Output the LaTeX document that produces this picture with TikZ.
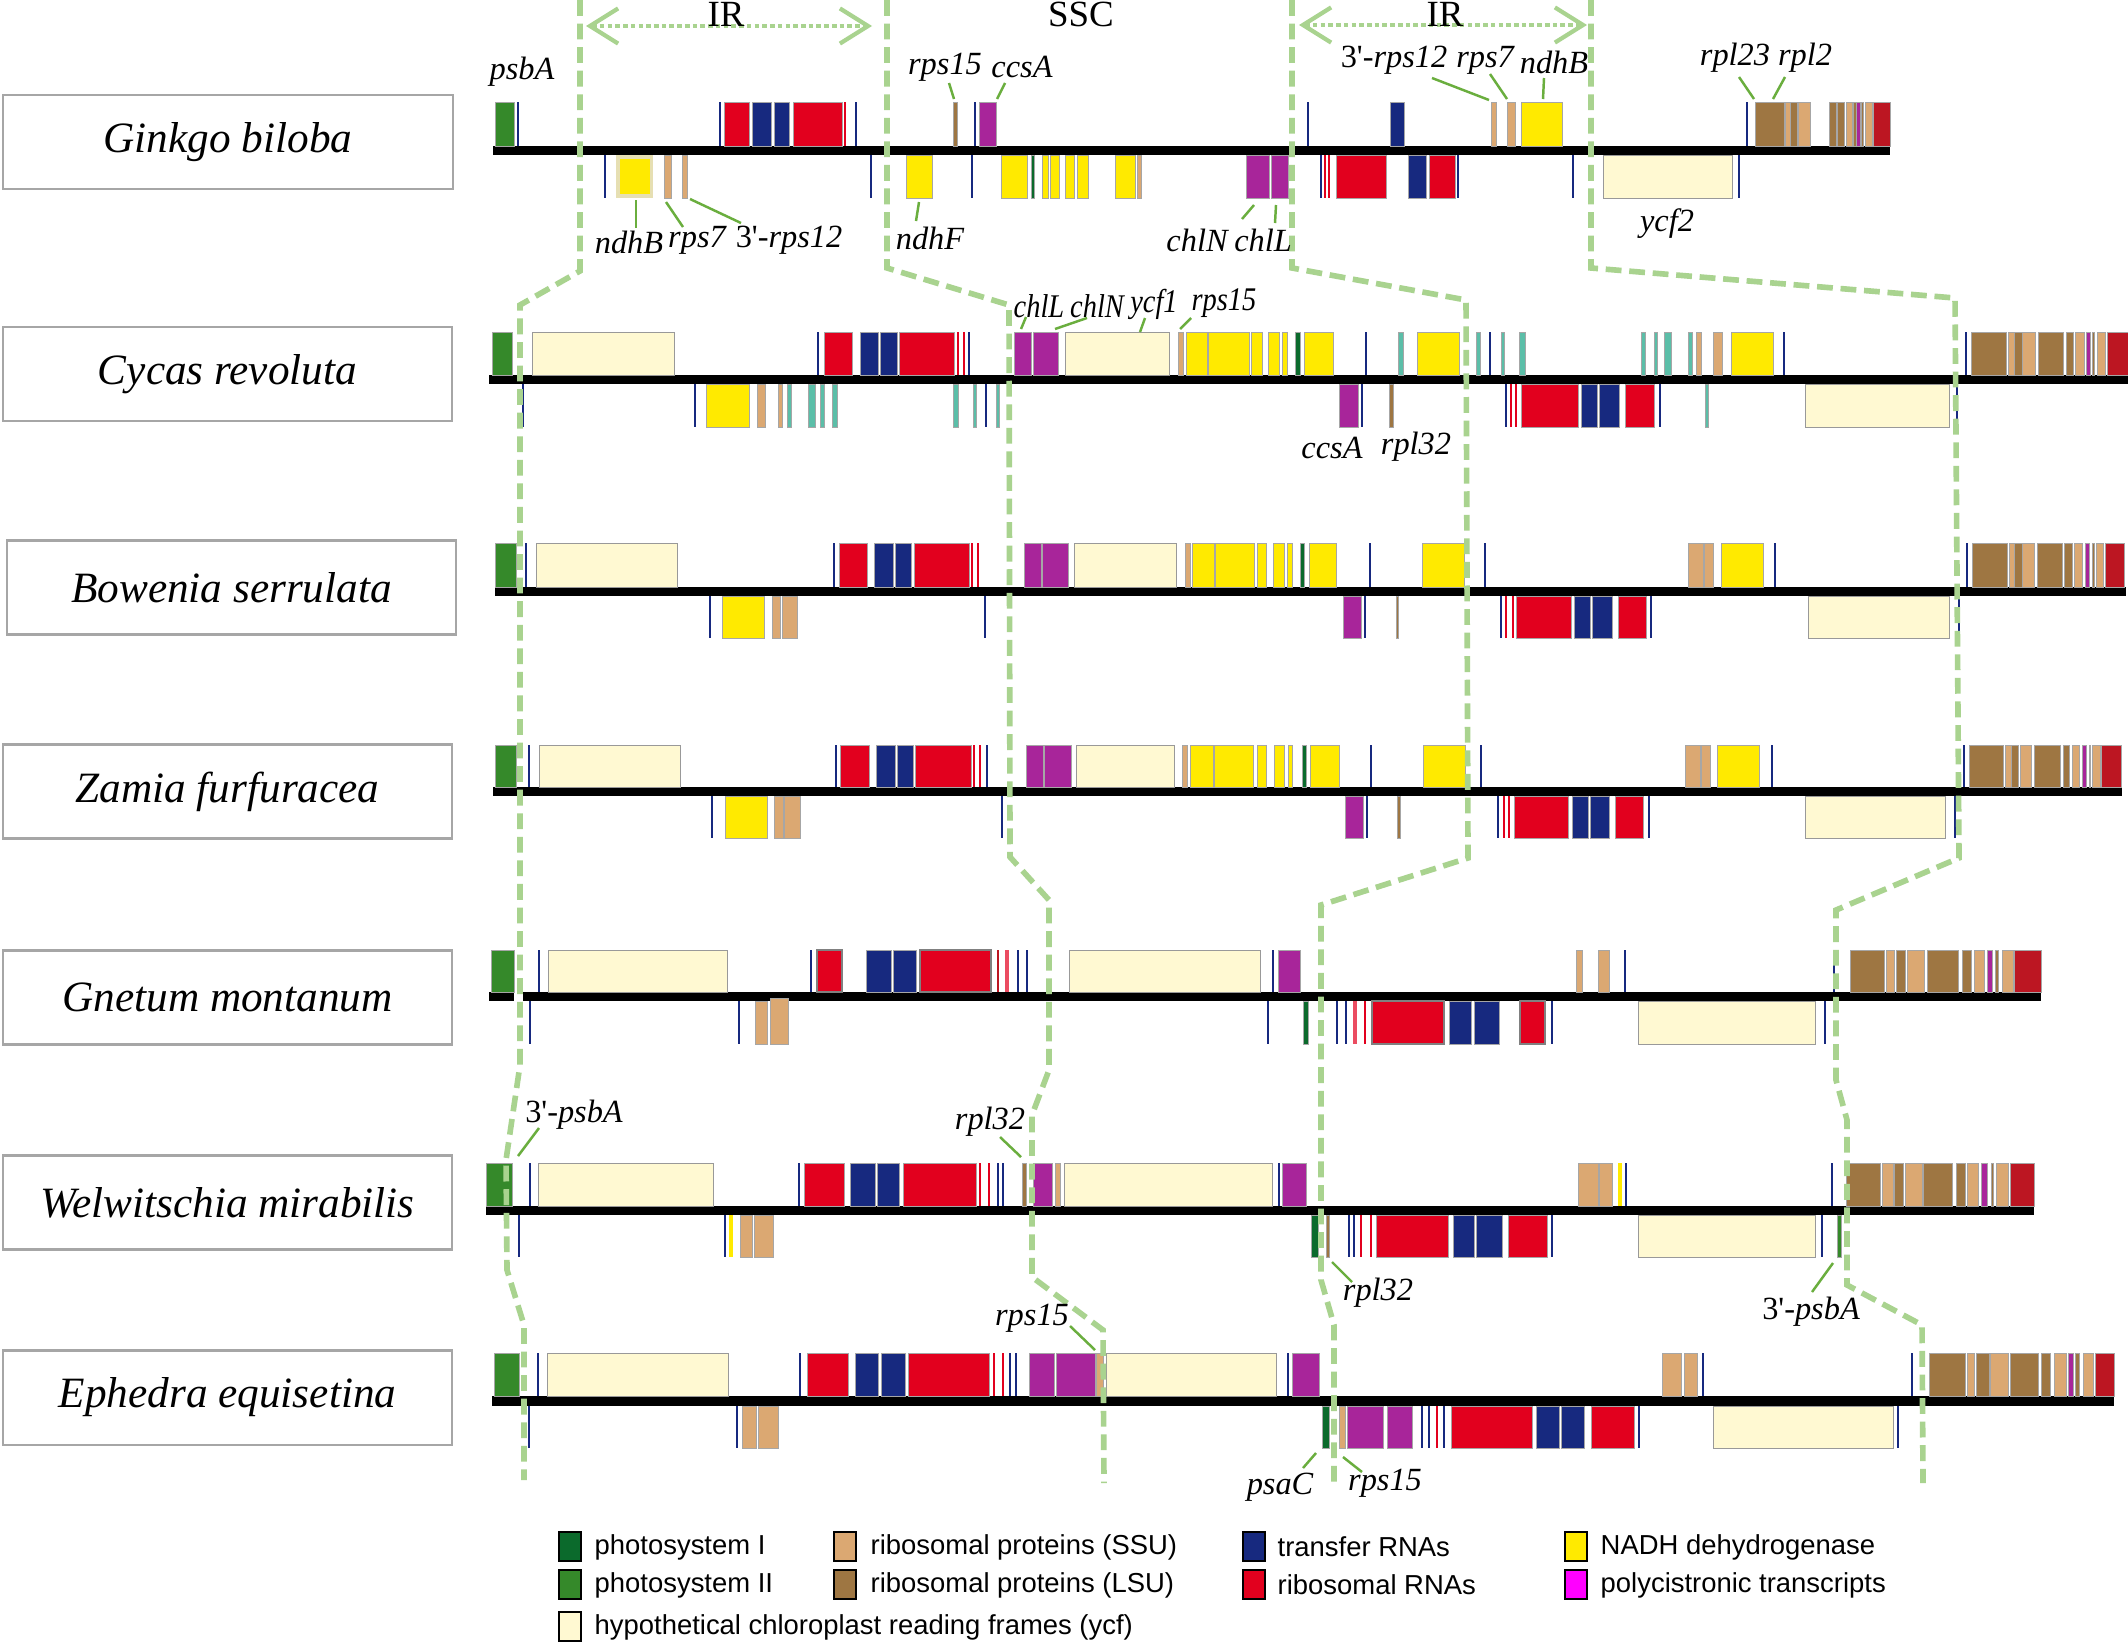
\documentclass[tikz,border=0pt]{standalone}
\usepackage{fontspec}
\setmainfont{Liberation Serif}
\setsansfont{Liberation Sans}
\newfontfamily\condserif[FakeStretch=0.86]{Liberation Serif}
\usetikzlibrary{arrows.meta}
\definecolor{cPSI}{HTML}{0B6A2C}
\definecolor{cPSII}{HTML}{35892A}
\definecolor{cSSU}{HTML}{DBA872}
\definecolor{cLSU}{HTML}{9E7642}
\definecolor{cTRNA}{HTML}{17297F}
\definecolor{cRRNA}{HTML}{E2001E}
\definecolor{cNDH}{HTML}{FFEA00}
\definecolor{cPOLY}{HTML}{A8259A}
\definecolor{cMAG}{HTML}{FF00FF}
\definecolor{cYCF}{HTML}{FFF9D2}
\definecolor{cDRED}{HTML}{BC1622}
\definecolor{cTEAL}{HTML}{5BBEA8}
\definecolor{cDASH}{HTML}{A9D38F}
\definecolor{cLEAD}{HTML}{6AAE3E}
\definecolor{cBOX}{HTML}{A6A6A6}
\definecolor{cKHAKI}{HTML}{E6DFB3}
\newcommand\gbx[3]{\path[#3] (#1,\yt) rectangle (#2,\yb);}
\newcommand\gln[2]{\draw[#2] (#1,\yt) -- (#1,\yb);}
\newcommand\tp{{\upshape 3\textquotesingle-}}
\begin{document}
\begin{tikzpicture}[x=0.01cm,y=-0.01cm,
  gene/.style={draw=black!35, line width=0.25pt},
  psI/.style={gene, fill=cPSI}, psII/.style={gene, fill=cPSII},
  ssu/.style={gene, fill=cSSU}, lsu/.style={gene, fill=cLSU},
  trna/.style={gene, fill=cTRNA}, rrna/.style={gene, fill=cRRNA},
  rrnag/.style={fill=cRRNA, draw=black!50, line width=0.8pt},
  ndh/.style={gene, fill=cNDH}, poly/.style={gene, fill=cPOLY},
  ycf/.style={gene, fill=cYCF, draw=black!40}, dred/.style={gene, fill=cDRED},
  teal/.style={gene, fill=cTEAL},
  nl/.style={draw=cTRNA, line width=0.4pt}, rl/.style={draw=cRRNA, line width=0.6pt},
  gbar/.style={fill=black},
  gdash/.style={draw=cDASH, line width=1.6pt, dash pattern=on 4.5pt off 2.2pt},
  lead/.style={draw=cLEAD, line width=0.7pt},
  glab/.style={font=\fontsize{9.2}{10}\selectfont\itshape, inner sep=0pt},
  clab/.style={font=\condserif\fontsize{9.4}{10}\selectfont\itshape, inner sep=0pt},
  rlab/.style={font=\fontsize{10.5}{11}\selectfont, inner sep=0pt},
  spbox/.style={draw=cBOX, line width=0.6pt, minimum width=4.49cm, minimum height=0.94cm,
    font=\fontsize{12.3}{13}\selectfont\itshape},
  irarrow/.style={draw=cDASH, line width=1.1pt, dash pattern=on 1.3pt off 0.9pt,
    {Straight Barb[length=8pt,width=10pt,line width=1.2pt]}-{Straight Barb[length=8pt,width=10pt,line width=1.2pt]}},
  lsw/.style={draw=black, line width=0.8pt},
  ltx/.style={anchor=west, inner sep=0pt, font=\sffamily\fontsize{7.8}{8}\selectfont}
]
\useasboundingbox (0,0) rectangle (2128,1651);
\fill[white] (0,0) rectangle (2128,1651);

% species boxes
\node[spbox] (sp1) at (228,142) {Ginkgo biloba};
\node[spbox] (sp2) at (227.5,374) {Cycas revoluta};
\node[spbox] (sp3) at (231.5,587.5) {Bowenia serrulata};
\node[spbox] (sp4) at (227.5,791.5) {Zamia furfuracea};
\node[spbox] (sp5) at (227.5,997.5) {Gnetum montanum};
\node[spbox] (sp6) at (227.5,1202.5) {Welwitschia mirabilis};
\node[spbox] (sp7) at (227.5,1397.5) {Ephedra equisetina};

% ===== Ginkgo =====
\fill[gbar] (493,146) rectangle (1890,155);
\def\yt{102}\def\yb{146}
\gbx{495}{514}{psII}\gln{518}{nl}\gln{720}{nl}
\gbx{724}{749}{rrna}\gbx{752}{771}{trna}\gbx{774}{789}{trna}\gbx{793}{842}{rrna}
\gln{845}{rl}\gln{856}{nl}\gbx{953}{957}{lsu}\gln{975}{nl}\gbx{979}{996}{poly}
\gln{1308}{nl}\gbx{1390}{1404}{trna}\gbx{1491}{1496}{ssu}\gbx{1507}{1515}{ssu}\gbx{1521}{1562}{ndh}
\gln{1747}{nl}\gbx{1755}{1784}{lsu}\gbx{1785}{1790}{ssu}\gbx{1790}{1797}{lsu}\gbx{1798}{1810}{ssu}
\gbx{1829}{1836}{lsu}\gbx{1837}{1844}{lsu}\gbx{1846}{1852}{ssu}\gbx{1853}{1856}{lsu}
\gbx{1856}{1860}{poly}\gbx{1861}{1863}{lsu}\gbx{1865}{1872}{ssu}\gbx{1873}{1890}{dred}
\def\yt{155}\def\yb{198}
\gln{605}{nl}
\path[fill=cKHAKI] (616,155) rectangle (653,198);
\path[fill=cNDH] (620,159) rectangle (650,194);
\gbx{664}{671}{ssu}\gbx{682}{687}{ssu}\gln{871}{nl}\gbx{906}{932}{ndh}\gln{972}{nl}
\gbx{1001}{1027}{ndh}\gbx{1031}{1034}{psI}\gbx{1042}{1048}{ndh}\gbx{1050}{1059}{ndh}
\gbx{1065}{1074}{ndh}\gbx{1077}{1088}{ndh}\gbx{1115}{1135}{ndh}\gbx{1137}{1141}{ssu}
\gbx{1246}{1269}{poly}\gbx{1271}{1288}{poly}\gln{1321}{nl}\gln{1325}{rl}\gln{1329}{rl}
\gbx{1336}{1386}{rrna}\gbx{1408}{1426}{trna}\gbx{1429}{1455}{rrna}\gln{1458}{nl}
\gln{1573}{nl}\gbx{1603}{1732}{ycf}\gln{1739}{nl}

% ===== Cycas =====
\fill[gbar] (489,375) rectangle (2128,384);
\def\yt{332}\def\yb{375}
\gbx{492}{512}{psII}\gbx{532}{674}{ycf}\gln{818}{nl}\gbx{824}{852}{rrna}\gbx{860}{878}{trna}
\gbx{880}{897}{trna}\gbx{899}{954}{rrna}\gln{958}{rl}\gln{964}{rl}\gln{969}{nl}
\gbx{1014}{1031}{poly}\gbx{1033}{1058}{poly}\gbx{1065}{1169}{ycf}\gbx{1178}{1183}{ssu}
\gbx{1186}{1207}{ndh}\gbx{1208}{1249}{ndh}\gbx{1251}{1262}{ndh}\gbx{1268}{1279}{ndh}
\gbx{1282}{1287}{ndh}\gbx{1295}{1300}{psI}\gbx{1304}{1333}{ndh}\gln{1366}{nl}
\gbx{1398}{1403}{teal}\gbx{1417}{1459}{ndh}\gbx{1476}{1480}{teal}\gln{1490}{nl}
\gbx{1501}{1504}{teal}\gbx{1519}{1525}{teal}\gbx{1641}{1645}{teal}\gbx{1654}{1657}{teal}
\gbx{1664}{1671}{teal}\gbx{1688}{1692}{teal}\gbx{1696}{1701}{ssu}\gbx{1713}{1722}{ssu}
\gbx{1731}{1773}{ndh}\gln{1784}{nl}\gln{1966}{nl}
\gbx{1971}{2006}{lsu}\gbx{2008}{2014}{ssu}\gbx{2014}{2022}{lsu}\gbx{2022}{2035}{ssu}
\gbx{2038}{2063}{lsu}\gbx{2066}{2073}{lsu}\gbx{2075}{2084}{ssu}\gbx{2086}{2090}{poly}
\gbx{2092}{2094}{lsu}\gbx{2097}{2105}{ssu}\gbx{2107}{2128}{dred}
\def\yt{384}\def\yb{427}
\gln{523}{nl}\gln{695}{nl}\gbx{706}{749}{ndh}\gbx{757}{765}{ssu}\gbx{778}{782}{ssu}
\gbx{787}{791}{teal}\gbx{808}{815}{teal}\gbx{820}{824}{teal}\gbx{832}{837}{teal}
\gbx{953}{958}{teal}\gbx{973}{976}{teal}\gln{986}{nl}\gbx{996}{999}{teal}
\gbx{1339}{1358}{poly}\gln{1362}{nl}\gbx{1389}{1393}{lsu}\gln{1506}{nl}\gln{1511}{rl}\gln{1516}{rl}
\gbx{1521}{1578}{rrna}\gbx{1581}{1597}{trna}\gbx{1599}{1619}{trna}\gbx{1625}{1654}{rrna}
\gln{1660}{nl}\gbx{1705}{1708}{teal}\gbx{1805}{1949}{ycf}\gln{1957}{nl}

% ===== Bowenia =====
\fill[gbar] (495,587) rectangle (2126,596);
\def\yt{543}\def\yb{587}
\gbx{495}{516}{psII}\gln{526}{nl}\gbx{536}{677}{ycf}\gln{834}{nl}\gbx{839}{867}{rrna}
\gbx{874}{893}{trna}\gbx{895}{911}{trna}\gbx{914}{969}{rrna}\gln{972}{rl}\gln{978}{rl}
\gbx{1024}{1041}{poly}\gbx{1042}{1068}{poly}\gbx{1074}{1176}{ycf}\gbx{1185}{1190}{ssu}
\gbx{1192}{1214}{ndh}\gbx{1215}{1254}{ndh}\gbx{1257}{1266}{ndh}\gbx{1273}{1284}{ndh}
\gbx{1287}{1292}{ndh}\gbx{1300}{1304}{psI}\gbx{1309}{1336}{ndh}\gln{1370}{nl}
\gbx{1422}{1464}{ndh}\gln{1485}{nl}\gbx{1688}{1703}{ssu}\gbx{1704}{1713}{ssu}
\gbx{1721}{1763}{ndh}\gln{1775}{nl}\gln{1967}{nl}
\gbx{1972}{2007}{lsu}\gbx{2009}{2014}{ssu}\gbx{2014}{2022}{lsu}\gbx{2022}{2034}{ssu}
\gbx{2037}{2062}{lsu}\gbx{2064}{2072}{lsu}\gbx{2074}{2082}{ssu}\gbx{2085}{2089}{poly}
\gbx{2092}{2094}{lsu}\gbx{2096}{2103}{ssu}\gbx{2105}{2124}{dred}
\def\yt{596}\def\yb{638}
\gln{710}{nl}\gbx{722}{764}{ndh}\gbx{772}{780}{ssu}\gbx{782}{797}{ssu}\gln{985}{nl}
\gbx{1343}{1361}{poly}\gln{1365}{nl}\gbx{1396}{1398}{lsu}\gln{1501}{nl}\gln{1506}{rl}\gln{1513}{rl}
\gbx{1516}{1571}{rrna}\gbx{1574}{1590}{trna}\gbx{1592}{1612}{trna}\gbx{1618}{1646}{rrna}
\gln{1651}{nl}\gbx{1808}{1949}{ycf}\gln{1959}{nl}

% ===== Zamia =====
\fill[gbar] (493,787) rectangle (2122,796);
\def\yt{745}\def\yb{787}
\gbx{495}{516}{psII}\gln{529}{nl}\gbx{539}{680}{ycf}\gln{836}{nl}\gbx{840}{869}{rrna}
\gbx{876}{895}{trna}\gbx{897}{913}{trna}\gbx{915}{971}{rrna}\gln{974}{rl}\gln{980}{rl}\gln{987}{nl}
\gbx{1026}{1043}{poly}\gbx{1044}{1071}{poly}\gbx{1076}{1174}{ycf}\gbx{1182}{1187}{ssu}
\gbx{1190}{1213}{ndh}\gbx{1214}{1253}{ndh}\gbx{1257}{1266}{ndh}\gbx{1274}{1284}{ndh}
\gbx{1288}{1292}{ndh}\gbx{1302}{1306}{psI}\gbx{1310}{1339}{ndh}\gln{1371}{nl}
\gbx{1423}{1465}{ndh}\gln{1481}{nl}\gbx{1685}{1700}{ssu}\gbx{1701}{1710}{ssu}
\gbx{1717}{1759}{ndh}\gln{1772}{nl}\gln{1964}{nl}
\gbx{1969}{2003}{lsu}\gbx{2005}{2011}{ssu}\gbx{2011}{2018}{lsu}\gbx{2020}{2031}{ssu}
\gbx{2034}{2060}{lsu}\gbx{2063}{2069}{lsu}\gbx{2072}{2079}{ssu}\gbx{2082}{2086}{poly}
\gbx{2089}{2090}{lsu}\gbx{2092}{2100}{ssu}\gbx{2101}{2121}{dred}
\def\yt{796}\def\yb{838}
\gln{712}{nl}\gbx{725}{767}{ndh}\gbx{774}{783}{ssu}\gbx{784}{800}{ssu}\gln{1002}{nl}
\gbx{1345}{1363}{poly}\gln{1367}{nl}\gbx{1397}{1400}{lsu}\gln{1498}{nl}\gln{1504}{rl}\gln{1509}{rl}
\gbx{1514}{1568}{rrna}\gbx{1572}{1588}{trna}\gbx{1590}{1609}{trna}\gbx{1615}{1643}{rrna}
\gln{1649}{nl}\gbx{1805}{1945}{ycf}\gln{1955}{nl}

% ===== Gnetum =====
\fill[gbar] (489,992) rectangle (514,1001);
\fill[gbar] (523,992) rectangle (2041,1001);
\def\yt{950}\def\yb{992}
\gbx{491}{514}{psII}\gln{539}{nl}\gbx{548}{727}{ycf}\gln{811}{nl}\gbx{817}{842}{rrnag}
\gbx{866}{891}{trna}\gbx{893}{916}{trna}\gbx{920}{991}{rrnag}
\gln{998}{draw=cDRED,line width=0.7pt}\gln{1007}{draw=cRRNA!70,line width=0.9pt}
\gln{1018}{nl}\gln{1027}{nl}\gbx{1069}{1260}{ycf}\gln{1273}{nl}\gbx{1278}{1300}{poly}
\gbx{1576}{1582}{ssu}\gbx{1598}{1609}{ssu}\gln{1625}{nl}\gln{1834}{nl}
\gbx{1850}{1884}{lsu}\gbx{1886}{1894}{ssu}\gbx{1896}{1905}{lsu}\gbx{1907}{1924}{ssu}
\gbx{1927}{1958}{lsu}\gbx{1962}{1971}{lsu}\gbx{1974}{1984}{ssu}\gbx{1987}{1992}{poly}
\gbx{1995}{1998}{lsu}\gbx{2002}{2013}{ssu}\gbx{2014}{2041}{dred}
\def\yt{1001}\def\yb{1044}
\gln{530}{nl}\gln{739}{nl}\gbx{755}{767}{ssu}\path[ssu] (770,998) rectangle (788,1044);
\gln{1268}{nl}\gbx{1303}{1308}{psI}\gln{1337}{nl}\gln{1346}{nl}
\gln{1355}{draw=cRRNA!70,line width=0.9pt}\gln{1365}{rl}
\gbx{1372}{1444}{rrnag}\gbx{1449}{1471}{trna}\gbx{1474}{1499}{trna}\gbx{1520}{1545}{rrnag}
\gln{1552}{nl}\gbx{1638}{1815}{ycf}\gln{1825}{nl}

% ===== Welwitschia =====
\fill[gbar] (486,1206) rectangle (2034,1215);
\def\yt{1163}\def\yb{1206}
\gbx{486}{512}{psII}\gln{530}{nl}\gbx{538}{713}{ycf}\gln{799}{nl}\gbx{804}{844}{rrna}
\gbx{850}{875}{trna}\gbx{877}{899}{trna}\gbx{903}{976}{rrna}\gln{980}{rl}\gln{989}{rl}
\gln{998}{nl}\gln{1003}{nl}\gbx{1022}{1026}{lsu}\gbx{1033}{1052}{poly}\gbx{1055}{1060}{ssu}
\gbx{1064}{1272}{ycf}\gln{1279}{nl}\gbx{1282}{1306}{poly}
\gbx{1578}{1598}{ssu}\gbx{1599}{1612}{ssu}\gln{1620}{draw=cNDH,line width=0.9pt}\gln{1626}{nl}
\gln{1832}{nl}\gbx{1846}{1880}{lsu}\gbx{1882}{1893}{ssu}\gbx{1894}{1903}{lsu}\gbx{1905}{1922}{ssu}
\gbx{1923}{1952}{lsu}\gbx{1956}{1965}{lsu}\gbx{1967}{1978}{ssu}\gbx{1981}{1987}{poly}
\gbx{1991}{1993}{lsu}\gbx{1996}{2008}{ssu}\gbx{2010}{2034}{dred}
\def\yt{1215}\def\yb{1257}
\gln{519}{nl}\gln{725}{nl}\gln{731}{draw=cNDH,line width=0.9pt}\gbx{740}{752}{ssu}\gbx{754}{773}{ssu}
\gbx{1311}{1318}{psI}\gbx{1326}{1329}{lsu}\gln{1349}{nl}\gln{1354}{nl}\gln{1361}{rl}\gln{1371}{rl}
\gbx{1376}{1448}{rrna}\gbx{1453}{1474}{trna}\gbx{1476}{1502}{trna}\gbx{1508}{1547}{rrna}
\gln{1552}{nl}\gbx{1638}{1815}{ycf}\gln{1822}{nl}\gbx{1837}{1841}{psII}

% ===== Ephedra =====
\fill[gbar] (492,1396) rectangle (2114,1406);
\def\yt{1353}\def\yb{1396}
\gbx{494}{519}{psII}\gln{538}{nl}\gbx{547}{728}{ycf}\gln{800}{nl}\gbx{807}{848}{rrna}
\gbx{855}{878}{trna}\gbx{881}{905}{trna}\gbx{908}{989}{rrna}\gln{994}{rl}\gln{1003}{rl}
\gln{1010}{nl}\gln{1016}{nl}\gbx{1029}{1054}{poly}\gbx{1056}{1095}{poly}\gbx{1096}{1103}{ssu}
\gbx{1106}{1276}{ycf}\gln{1288}{nl}\gbx{1292}{1319}{poly}
\gbx{1662}{1681}{ssu}\gbx{1684}{1697}{ssu}\gln{1703}{nl}\gln{1912}{nl}
\gbx{1929}{1965}{lsu}\gbx{1967}{1974}{ssu}\gbx{1976}{1989}{lsu}\gbx{1990}{2008}{ssu}
\gbx{2010}{2038}{lsu}\gbx{2041}{2050}{lsu}\gbx{2054}{2066}{ssu}\gbx{2068}{2073}{poly}
\gbx{2075}{2079}{lsu}\gbx{2083}{2093}{ssu}\gbx{2095}{2114}{dred}
\def\yt{1406}\def\yb{1448}
\gln{529}{nl}\gln{737}{nl}\gbx{742}{756}{ssu}\gbx{758}{778}{ssu}
\gbx{1322}{1329}{psI}\gbx{1339}{1345}{ssu}\gbx{1347}{1383}{poly}\gbx{1387}{1412}{poly}
\gln{1422}{nl}\gln{1429}{nl}\gln{1437}{rl}\gln{1444}{nl}
\gbx{1451}{1532}{rrna}\gbx{1536}{1559}{trna}\gbx{1561}{1584}{trna}\gbx{1591}{1634}{rrna}
\gln{1639}{nl}\gbx{1713}{1893}{ycf}\gln{1898}{nl}

% ===== boundary dashed lines =====
\draw[gdash] (580,0)--(580,271)--(520,305)--(520,1065)--(506,1160)--(507,1270)--(524,1325)--(524,1480);
\draw[gdash] (887,0)--(887,268)--(1009,305)--(1010,857)--(1049,900)--(1049,1070)--(1032,1115)--(1032,1277)--(1103,1330)--(1104,1483);
\draw[gdash] (1292,0)--(1292,268)--(1466,300)--(1468,858)--(1321,905)--(1321,1280)--(1334,1325)--(1334,1483);
\draw[gdash] (1591,0)--(1591,268)--(1955,298)--(1959,858)--(1836,910)--(1836,1080)--(1847,1120)--(1847,1285)--(1922,1325)--(1923,1483);

% IR / SSC
\coordinate (ir1a) at (586,26); \coordinate (ir1b) at (872,26);
\coordinate (ir2a) at (1299,25); \coordinate (ir2b) at (1587,25);
\draw[irarrow] (ir1a) -- (ir1b);
\draw[irarrow] (ir2a) -- (ir2b);
\node[rlab] (tir1) at (726,14) {IR};
\node[rlab] (tssc) at (1081,14) {SSC};
\node[rlab] (tir2) at (1445,14) {IR};

% ===== labels: Ginkgo =====
\node[glab] (a1) at (522,72) {psbA};
\node[glab] (a2) at (945,67) {rps15};
\node[glab] (a3) at (1022,67) {ccsA};
\draw[lead] (949,83)--(954,99); \draw[lead] (1005,83)--(997,99);
\node[glab] (a4) at (629,242) {ndhB};
\node[glab] (a5) at (697,240) {rps7};
\node[glab] (a6) at (789,240) {\tp rps12};
\draw[lead] (636,200)--(636,228); \draw[lead] (666,202)--(683,227); \draw[lead] (690,199)--(741,223);
\node[glab] (a7) at (930,238) {ndhF};
\draw[lead] (919,202)--(916,221);
\node[glab] (a8) at (1197,240) {chlN};
\node[glab] (a9) at (1263,240) {chlL};
\draw[lead] (1254,205)--(1242,219); \draw[lead] (1276,205)--(1275,223);
\node[glab] (a10) at (1394,60) {\tp rps12};
\node[glab] (a11) at (1485,60) {rps7};
\node[glab] (a12) at (1554,62) {ndhB};
\draw[lead] (1432,78)--(1489,100); \draw[lead] (1490,74)--(1507,99); \draw[lead] (1544,78)--(1543,99);
\node[glab] (a13) at (1735,58) {rpl23};
\node[glab] (a14) at (1805,58) {rpl2};
\draw[lead] (1739,77)--(1754,99); \draw[lead] (1785,77)--(1773,99);
\node[glab] (a15) at (1667,224) {ycf2};

% ===== labels: Cycas =====
\node[clab] (b1) at (1039,306) {chlL};
\node[clab] (b2) at (1097,306) {chlN};
\node[clab] (b3) at (1154,304) {ycf1};
\node[clab] (b4) at (1224,303) {rps15};
\draw[lead] (1026,317)--(1021,329); \draw[lead] (1087,318)--(1055,329);
\draw[lead] (1145,318)--(1140,332); \draw[lead] (1191,318)--(1180,329);
\node[glab] (b5) at (1332,448) {ccsA};
\node[glab] (b6) at (1416,447) {rpl32};

% ===== labels: Welwitschia =====
\node[glab] (c1) at (574,1115) {\tp psbA};
\draw[lead] (539,1128)--(518,1156);
\node[glab] (c2) at (990,1122) {rpl32};
\draw[lead] (1000,1137)--(1021,1157);
\node[glab] (c3) at (1378,1293) {rpl32};
\draw[lead] (1332,1262)--(1352,1282);
\node[glab] (c4) at (1811,1312) {\tp psbA};
\draw[lead] (1833,1263)--(1812,1292);

% ===== labels: Ephedra =====
\node[glab] (d1) at (1032,1318) {rps15};
\draw[lead] (1070,1326)--(1095,1350);
\node[glab] (d2) at (1280,1487) {psaC};
\draw[lead] (1316,1453)--(1303,1468);
\node[glab] (d3) at (1385,1483) {rps15};
\draw[lead] (1343,1457)--(1362,1472);

% ===== legend =====
\path[lsw, fill=cPSI] (559,1532) rectangle (581,1561);
\node[ltx] (l1) at (594,1547) {photosystem I};
\path[lsw, fill=cPSII] (559,1570) rectangle (581,1599);
\node[ltx] (l2) at (594,1585) {photosystem II};
\path[lsw, fill=cYCF] (559,1612) rectangle (581,1641);
\node[ltx] (l3) at (594,1627) {hypothetical chloroplast reading frames (ycf)};
\path[lsw, fill=cSSU] (834,1532) rectangle (856,1561);
\node[ltx] (l4) at (870,1547) {ribosomal proteins (SSU)};
\path[lsw, fill=cLSU] (834,1570) rectangle (856,1599);
\node[ltx] (l5) at (870,1585) {ribosomal proteins (LSU)};
\path[lsw, fill=cTRNA] (1243,1532) rectangle (1265,1561);
\node[ltx] (l6) at (1277,1547) {transfer RNAs};
\path[lsw, fill=cRRNA] (1243,1570) rectangle (1265,1599);
\node[ltx] (l7) at (1277,1585) {ribosomal RNAs};
\path[lsw, fill=cNDH] (1565,1532) rectangle (1587,1561);
\node[ltx] (l8) at (1600,1547) {NADH dehydrogenase};
\path[lsw, fill=cMAG] (1565,1570) rectangle (1587,1599);
\node[ltx] (l9) at (1600,1585) {polycistronic transcripts};
\end{tikzpicture}
\end{document}
